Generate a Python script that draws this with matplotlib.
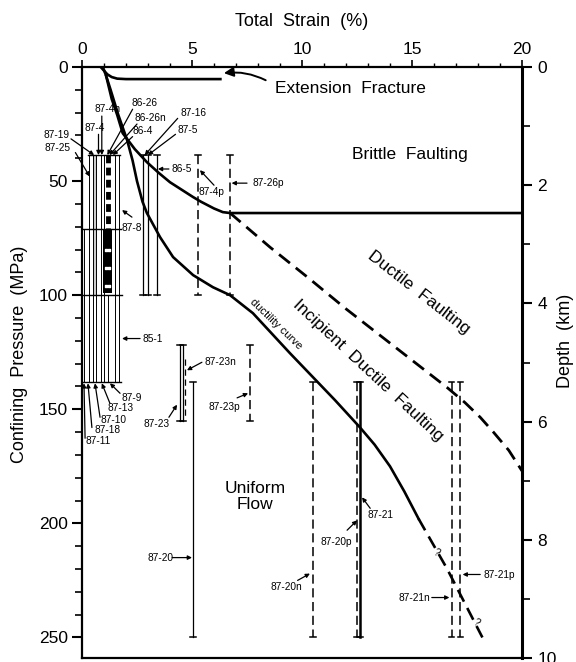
import numpy as np
import matplotlib
matplotlib.use("Agg")
import matplotlib.pyplot as plt

plt.rcParams["font.family"] = ["Liberation Sans", "DejaVu Sans"]

# Boundary curves: total strain (%) vs confining pressure (MPa)

ext_x = [0.85, 1.0, 1.15, 1.35, 1.6, 2.0, 6.35]
ext_y = [0.0, 1.6, 3.2, 4.4, 5.1, 5.3, 5.3]

brittle_x = [1.1, 1.35, 1.6, 1.85, 2.4, 2.95, 3.5, 4.0, 5.05, 5.4, 6.0, 6.4, 6.73, 20.0]
brittle_y = [4.0, 14.0, 21.0, 29.0, 36.0, 41.7, 46.5, 50.5, 57.0, 59.0, 62.0, 63.6, 64.0, 64.0]

ductile_x = [6.73, 8.55, 10.3, 12.0, 14.0, 15.6, 16.6, 17.4, 18.1, 18.7, 19.4, 20.0]
ductile_y = [64.0, 79.0, 92.5, 106.0, 121.0, 133.0, 140.5, 147.0, 153.5, 160.0, 168.0, 177.0]

curve_x = [0.95, 1.1, 1.3, 1.65, 2.05, 2.3, 2.5, 2.75, 2.95, 3.55, 4.14, 5.05,
           5.95, 6.73, 7.77, 9.45, 11.5, 12.64, 13.3, 14.0, 14.65, 15.3]
curve_y = [0.0, 4.0, 10.0, 21.0, 32.0, 41.0, 50.0, 59.0, 64.0, 74.6, 83.3, 91.2,
           96.5, 100.0, 107.9, 125.4, 146.0, 158.0, 165.5, 175.0, 186.0, 198.0]

inferred_x = [15.3, 16.6, 18.2]
inferred_y = [198.0, 220.0, 250.0]

# Sample pressure ranges (strain position, top, bottom)

solid_x = [2.77, 3.0, 3.4, 4.45, 4.59, 5.05]
solid_top = [38.6, 38.6, 38.6, 122, 122, 138]
solid_bot = [100, 100, 100, 155, 155, 250]

thick_x = [12.64]
thick_top = [138]
thick_bot = [250]

dashed_x = [5.27, 6.73, 7.64, 10.5, 12.5, 16.8, 17.2]
dashed_top = [38.6, 38.6, 122, 138, 138, 138, 138]
dashed_bot = [100, 100, 155, 250, 250, 250, 250]

inner_x = [4.68]
inner_top = [128]
inner_bot = [153]

cluster_x = [0.1, 0.3, 0.5, 0.65, 0.85, 1.0, 1.2, 1.5, 1.68]
cluster_top = [71, 38.6, 38.6, 38.6, 38.6, 38.6, 100, 38.6, 38.6]
cluster_bot = [138, 138, 138, 138, 138, 138, 138, 138, 138]

cluster_rows = [38.6, 71, 100, 138]
cluster_left = [0.27, 0.0, 0.0, 0.0]
cluster_right = [1.73, 1.75, 1.8, 1.75]

depth_ticks = [0, 2, 4, 6, 8, 10]

# Figure

fig = plt.figure(figsize=(5.76, 6.62), dpi=100)
ax = fig.add_axes([82 / 576, 4 / 662, 440 / 576, 591 / 662])
ax.set_xlim(0, 20)
ax.set_ylim(259, 0)

for s in ["top", "left", "bottom"]:
    ax.spines[s].set_linewidth(1.6)
ax.spines["right"].set_linewidth(2.2)

ax.xaxis.tick_top()
ax.set_xticks([0, 5, 10, 15, 20])
ax.set_xticks(np.arange(0, 21, 1), minor=True)
ax.tick_params(axis="x", which="major", length=5, width=1.2, labelsize=12.5, pad=2)
ax.tick_params(axis="x", which="minor", length=3, width=1)
ax.set_yticks(range(0, 251, 50))
ax.set_yticks(range(0, 259, 10), minor=True)
ax.tick_params(axis="y", which="major", length=7, width=1.5, labelsize=12.5, pad=3)
ax.tick_params(axis="y", which="minor", length=5, width=1.2)

ax2 = ax.twinx()
ax2.set_ylim(10, 0)
ax2.set_yticks(depth_ticks)
ax2.set_yticks([1, 3, 5, 7, 9], minor=True)
ax2.tick_params(axis="y", which="major", length=7, width=1.5, labelsize=12.5, pad=4)
ax2.tick_params(axis="y", which="minor", length=6, width=1.2)
for s in ax2.spines.values():
    s.set_visible(False)

fig.text(302 / 576, 1 - 22 / 662, "Total  Strain  (%)", fontsize=13,
         ha="center", va="center")
fig.text(20 / 576, 1 - 354 / 662, "Confining  Pressure  (MPa)", fontsize=13,
         rotation=90, ha="center", va="center")
fig.text(565 / 576, 1 - 341 / 662, "Depth  (km)", fontsize=13,
         rotation=90, ha="center", va="center")

# Boundaries

ax.plot(ext_x, ext_y, color="k", lw=1.9, solid_capstyle="butt")
ax.plot(brittle_x, brittle_y, color="k", lw=1.9)
ax.plot(curve_x, curve_y, color="k", lw=1.9)
ax.plot(ductile_x, ductile_y, color="k", lw=2.0, linestyle=(0, (5, 2.7)), clip_on=False)
ax.plot(inferred_x, inferred_y, color="k", lw=1.9, linestyle=(0, (5, 2.7)))

# Sample bars

cap = 0.13
for x, t, b in zip(solid_x, solid_top, solid_bot):
    ax.plot([x, x], [t, b], color="k", lw=0.9)
    ax.plot([x - cap, x + cap], [t, t], color="k", lw=1.1)
    ax.plot([x - cap, x + cap], [b, b], color="k", lw=1.1)

for x, t, b in zip(thick_x, thick_top, thick_bot):
    ax.plot([x, x], [t, b], color="k", lw=1.8)
    ax.plot([x - cap, x + cap], [t, t], color="k", lw=1.1)
    ax.plot([x - cap, x + cap], [b, b], color="k", lw=1.1)

for x, t, b in zip(dashed_x, dashed_top, dashed_bot):
    ax.plot([x, x], [t, b], color="k", lw=1.1, linestyle=(0, (6, 3)))
    ax.plot([x - cap, x + cap], [t, t], color="k", lw=1.1)
    ax.plot([x - cap, x + cap], [b, b], color="k", lw=1.1)

for x, t, b in zip(inner_x, inner_top, inner_bot):
    ax.plot([x, x], [t, b], color="k", lw=0.9, linestyle=(0, (5, 3)))

ax.fill_between([0.5, 0.68], 38.6, 100, color="0.8", lw=0)
for x, t, b in zip(cluster_x, cluster_top, cluster_bot):
    ax.plot([x, x], [t, b], color="k", lw=0.7)
for y, l, r in zip(cluster_rows, cluster_left, cluster_right):
    ax.plot([l, r], [y, y], color="k", lw=1.0)
ax.plot([1.18, 1.18], [38.6, 71], color="k", lw=3.5, linestyle=(0, (1.6, 0.9)))
ax.fill_between([0.97, 1.36], 71, 99, color="k", lw=0)
ax.scatter([1.1, 1.22, 1.1, 1.22, 1.1, 1.22], [80, 80, 88, 88, 96, 96],
           s=2, color="white", marker="s", zorder=5)

# Sample labels


def tag(text, tx, ty, x0, y0, x1, y1):
    ax.text(tx, ty, text, fontsize=7.3, ha="center", va="center", clip_on=False)
    ax.annotate("", xy=(x1, y1), xytext=(x0, y0), annotation_clip=False,
                arrowprops=dict(arrowstyle="-|>", lw=0.9, color="k",
                                mutation_scale=6, shrinkA=0, shrinkB=0))


tag("87-4n", 1.14, 18.4, 0.9, 21.5, 0.9, 38.6)
tag("87-4", 0.59, 26.8, 0.75, 29.5, 0.75, 38.6)
tag("86-26", 2.86, 15.8, 2.3, 18.5, 1.15, 38.6)
tag("86-26n", 3.1, 22.4, 2.5, 25.0, 1.25, 38.6)
tag("86-4", 2.77, 28.0, 2.3, 30.5, 1.4, 38.6)
tag("87-16", 5.05, 20.2, 4.35, 22.5, 2.85, 38.6)
tag("87-5", 4.82, 27.6, 4.25, 29.5, 3.0, 38.6)
tag("87-19", -1.14, 29.8, -0.5, 31.5, 0.55, 38.6)
tag("87-25", -1.1, 35.5, -0.3, 37.5, 0.35, 48.0)
tag("86-5", 4.55, 44.7, 3.95, 44.7, 3.45, 44.7)
tag("87-4p", 5.9, 54.8, 6.0, 51.8, 5.36, 45.2)
tag("87-26p", 8.45, 50.9, 7.5, 50.9, 6.8, 50.9)
tag("87-8", 2.28, 70.7, 2.27, 65.8, 1.82, 62.7)
tag("85-1", 3.23, 119.0, 2.64, 119.0, 1.82, 119.0)
tag("87-9", 2.27, 145.0, 1.73, 143.0, 1.27, 138.6)
tag("87-13", 1.77, 149.6, 1.27, 147.4, 0.9, 138.6)
tag("87-10", 1.41, 154.8, 0.82, 153.5, 0.59, 138.6)
tag("87-18", 1.14, 159.0, 0.45, 158.0, 0.27, 138.6)
tag("87-11", 0.73, 164.0, 0.14, 162.7, 0.09, 138.6)
tag("87-23", 3.41, 156.6, 3.95, 153.5, 4.32, 148.0)
tag("87-23n", 6.27, 129.4, 5.45, 129.4, 4.77, 132.9)
tag("87-23p", 6.45, 149.0, 7.05, 145.0, 7.55, 143.0)
tag("87-20", 3.55, 215.0, 4.1, 215.0, 5.0, 215.0)
tag("87-20n", 9.3, 228.0, 9.8, 225.0, 10.36, 222.0)
tag("87-20p", 11.55, 208.3, 12.05, 203.0, 12.5, 198.7)
tag("87-21", 13.55, 196.5, 13.1, 193.4, 12.73, 188.6)
tag("87-21n", 15.1, 232.5, 15.9, 232.5, 16.7, 232.5)
tag("87-21p", 18.95, 222.8, 18.1, 222.4, 17.3, 222.4)

ax.text(16.1, 212.7, "?", fontsize=7.3, ha="center", va="center", rotation=-30)
ax.text(17.95, 243.4, "?", fontsize=7.3, ha="center", va="center", rotation=-30)

# Regime labels

ax.text(12.2, 9.6, "Extension  Fracture", fontsize=12.5, ha="center", va="center")
ax.annotate("", xy=(6.45, 2.7), xytext=(8.35, 5.8),
            arrowprops=dict(arrowstyle="-|>", lw=1.4, color="k", mutation_scale=14,
                            shrinkA=0, shrinkB=0, connectionstyle="arc3,rad=0.15"))
ax.text(14.9, 38.2, "Brittle  Faulting", fontsize=12.5, ha="center", va="center")
ax.text(15.3, 98.7, "Ductile  Faulting", fontsize=12.5, ha="center", va="center",
        rotation=-38, rotation_mode="anchor")
ax.text(13.0, 133.0, "Incipient  Ductile  Faulting", fontsize=12.5, ha="center",
        va="center", rotation=-43, rotation_mode="anchor")
ax.text(8.8, 112.7, "ductility curve", fontsize=8, ha="center", va="center",
        rotation=-44, rotation_mode="anchor")
ax.text(7.86, 188.2, "Uniform\nFlow", fontsize=12.5, ha="center", va="center",
        linespacing=1.1)

fig.savefig("out.png", dpi=100)
